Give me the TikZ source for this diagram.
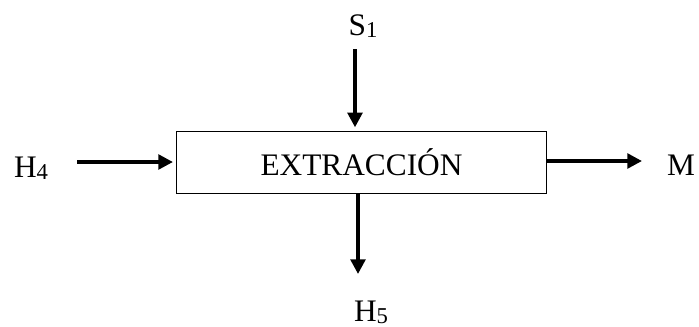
\documentclass[tikz,border=0pt]{standalone}
\usepackage{fontspec}
\setmainfont{Liberation Serif}
\usetikzlibrary{arrows.meta}
\newcommand{\lowsub}[1]{\raisebox{-1.5pt}{\fontsize{17}{20}\selectfont #1}}

\begin{document}
\begin{tikzpicture}[x=0.75pt,y=-0.75pt,
    flow/.style={line width=2.6pt,-{Triangle[length=11pt,width=11pt]}},
    label/.style={font=\fontsize{23.5}{28}\selectfont,anchor=base,inner sep=0pt}]
    \useasboundingbox (0,0) rectangle (699,326);
    \node[draw,line width=0.8pt,minimum width=278pt,minimum height=46pt,inner sep=0pt,
          font=\fontsize{23.5}{28}\selectfont] (extr) at (361.5,162.5) {EXTRACCIÓN};
    \node[label] (s1) at (363,35) {S\lowsub{1}};
    \node[label] (h4) at (31,177) {H\lowsub{4}};
    \node[label] (m) at (681,175) {M};
    \node[label] (h5) at (371,321) {H\lowsub{5}};
    % flows in and out
    \coordinate (s1out) at (355,49);
    \coordinate (h4out) at (77,162);
    \coordinate (mend) at (642,161);
    \coordinate (h5end) at (358,274);
    \draw[flow,shorten >=3pt] (s1out) -- (s1out |- extr.north);
    \draw[flow,shorten >=2pt] (h4out) -- (h4out -| extr.west);
    \draw[flow] (mend -| extr.east) -- (mend);
    \draw[flow] (h5end |- extr.south) -- (h5end);
\end{tikzpicture}
\end{document}
